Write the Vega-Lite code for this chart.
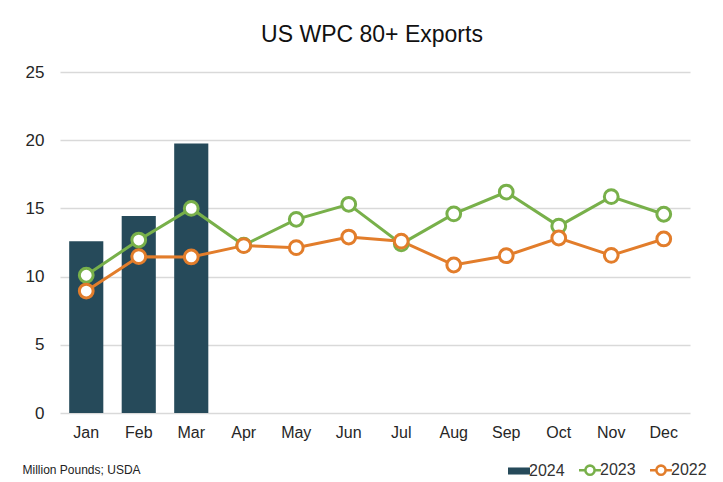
{
  "$schema": "https://vega.github.io/schema/vega-lite/v6.json",
  "width": 630,
  "height": 341,
  "autosize": {"type": "none"},
  "padding": {"left": 60, "top": 72, "right": 33, "bottom": 69},
  "background": "white",
  "title": {"text": "US WPC 80+ Exports", "fontSize": 23, "font": "Liberation Sans", "fontWeight": "normal", "color": "#111111", "offset": 16, "frame": "group", "dx": -3},
  "data": {"values": [
    {"month": "Jan", "year": "2024", "value": 12.6},
    {"month": "Feb", "year": "2024", "value": 14.45},
    {"month": "Mar", "year": "2024", "value": 19.75},
    {"month": "Jan", "year": "2023", "value": 10.1},
    {"month": "Feb", "year": "2023", "value": 12.68},
    {"month": "Mar", "year": "2023", "value": 15.0},
    {"month": "Apr", "year": "2023", "value": 12.3},
    {"month": "May", "year": "2023", "value": 14.2},
    {"month": "Jun", "year": "2023", "value": 15.3},
    {"month": "Jul", "year": "2023", "value": 12.4},
    {"month": "Aug", "year": "2023", "value": 14.6},
    {"month": "Sep", "year": "2023", "value": 16.2},
    {"month": "Oct", "year": "2023", "value": 13.7},
    {"month": "Nov", "year": "2023", "value": 15.86},
    {"month": "Dec", "year": "2023", "value": 14.57},
    {"month": "Jan", "year": "2022", "value": 8.94},
    {"month": "Feb", "year": "2022", "value": 11.46},
    {"month": "Mar", "year": "2022", "value": 11.44},
    {"month": "Apr", "year": "2022", "value": 12.27},
    {"month": "May", "year": "2022", "value": 12.12},
    {"month": "Jun", "year": "2022", "value": 12.9},
    {"month": "Jul", "year": "2022", "value": 12.6},
    {"month": "Aug", "year": "2022", "value": 10.85},
    {"month": "Sep", "year": "2022", "value": 11.53},
    {"month": "Oct", "year": "2022", "value": 12.83},
    {"month": "Nov", "year": "2022", "value": 11.56},
    {"month": "Dec", "year": "2022", "value": 12.76}
  ]},
  "encoding": {
    "x": {
      "field": "month", "type": "nominal",
      "sort": ["Jan","Feb","Mar","Apr","May","Jun","Jul","Aug","Sep","Oct","Nov","Dec"],
      "scale": {"paddingInner": 0.35, "paddingOuter": 0.175},
      "axis": {
        "labelAngle": 0, "domain": false, "ticks": false, "labelFontSize": 16, "labelPadding": 11, "labelColor": "#262626",
        "title": "Million Pounds; USDA", "titleAnchor": "start", "titleAlign": "left", "titleX": -38, "titleY": 56,
        "titleBaseline": "middle", "titleFontSize": 12, "titleFontWeight": "normal", "titleColor": "#222222"
      }
    },
    "y": {
      "field": "value", "type": "quantitative",
      "scale": {"domain": [0, 25], "nice": false},
      "axis": {"values": [0,5,10,15,20,25], "title": null, "domain": false, "ticks": false, "labelFontSize": 17, "labelPadding": 16, "labelColor": "#262626", "gridColor": "#d9d9d9", "gridWidth": 1.5}
    },
    "color": {
      "field": "year", "type": "nominal",
      "scale": {"domain": ["2024","2023","2022"], "range": ["#264a5a", "#78b04a", "#e27d2b"]},
      "legend": {
        "orient": "none", "legendX": 451, "legendY": 390, "direction": "horizontal", "title": null,
        "labelFontSize": 16, "labelColor": "#333333", "symbolSize": 484, "labelOffset": 2, "columnPadding": 9, "padding": 0,
        "encode": {
          "symbols": {
            "update": {
              "shape": {"signal": "datum.value === '2024' ? 'M-1,-0.32L1,-0.32L1,0.32L-1,0.32Z' : 'M-1,0L-0.42,0M0.42,0L1,0M0.42,0L0.388,0.161L0.297,0.297L0.161,0.388L0,0.42L-0.161,0.388L-0.297,0.297L-0.388,0.161L-0.42,0L-0.388,-0.161L-0.297,-0.297L-0.161,-0.388L0,-0.42L0.161,-0.388L0.297,-0.297L0.388,-0.161Z'"},
              "fill": {"signal": "scale('color', datum.value)"},
              "fillOpacity": {"signal": "datum.value === '2024' ? 1 : 0"},
              "stroke": {"signal": "scale('color', datum.value)"},
              "strokeWidth": {"signal": "datum.value === '2024' ? 0 : 2.5"},
              "size": {"value": 484},
              "opacity": {"value": 1}
            }
          }
        }
      }
    }
  },
  "layer": [
    {
      "transform": [{"filter": "datum.year === '2024'"}],
      "mark": {"type": "bar"}
    },
    {
      "transform": [{"filter": "datum.year !== '2024'"}],
      "mark": {"type": "line", "strokeWidth": 3}
    },
    {
      "transform": [{"filter": "datum.year !== '2024'"}],
      "mark": {"type": "point", "filled": false, "fill": "white", "fillOpacity": 1, "opacity": 1, "size": 190, "strokeWidth": 3}
    }
  ],
  "config": {
    "view": {"stroke": null},
    "font": "Liberation Sans"
  }
}
